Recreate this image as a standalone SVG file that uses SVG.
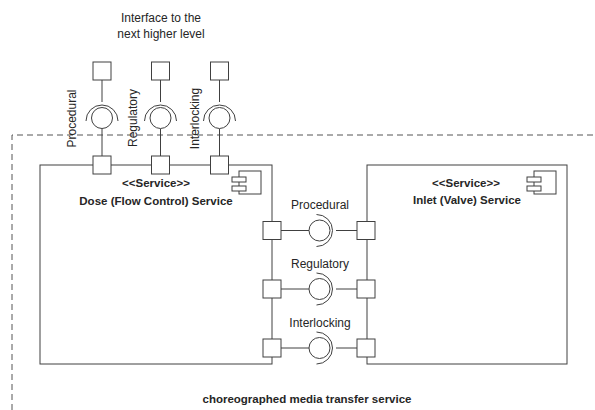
<svg xmlns="http://www.w3.org/2000/svg" width="595" height="410" viewBox="0 0 595 410">
<style>
.ln{stroke:#404040;stroke-width:1;fill:none}
.box{stroke:#404040;stroke-width:1;fill:#fff}
.port{stroke:#404040;stroke-width:1;fill:#fff}
.t{font-family:"Liberation Sans",Arial,sans-serif;font-size:12px;fill:#262626}
.b{font-weight:bold;font-size:11.5px}
.c{text-anchor:middle}
</style>
<rect width="595" height="410" fill="#fff"/>
<g id="boundary">
<path d="M12,410 V135 H600" fill="none" stroke="#555" stroke-width="1" stroke-dasharray="6,4"/>
<text class="t b c" x="307" y="403">choreographed media transfer service</text>
</g>
<g id="interface-title">
<text class="t c" x="161" y="22">Interface to the</text>
<text class="t c" x="161" y="38">next higher level</text>
</g>
<g id="dose-service">
<rect class="box" x="40" y="165" width="232" height="199"/>
<rect class="box" x="239" y="171" width="22" height="23"/>
<rect class="box" x="232" y="177" width="14" height="5"/>
<rect class="box" x="232" y="186" width="14" height="5"/>
<text class="t b c" x="156" y="187">&lt;&lt;Service&gt;&gt;</text>
<text class="t b c" x="156" y="205">Dose (Flow Control) Service</text>
</g>
<g id="inlet-service">
<rect class="box" x="367" y="165" width="200" height="199"/>
<rect class="box" x="534" y="171" width="22" height="23"/>
<rect class="box" x="527" y="177" width="14" height="5"/>
<rect class="box" x="527" y="186" width="14" height="5"/>
<text class="t b c" x="466" y="187">&lt;&lt;Service&gt;&gt;</text>
<text class="t b c" x="467" y="204">Inlet (Valve) Service</text>
</g>
<g id="connectors">
<path class="ln" d="M102,80 V102 M102,129 V156"/>
<path class="ln" d="M160.5,80 V102 M160.5,129 V156"/>
<path class="ln" d="M219.5,80 V102 M219.5,129 V156"/>
<path class="ln" d="M281,230.5 H309 M336,230.5 H357"/>
<path class="ln" d="M281,289 H309 M336,289 H357"/>
<path class="ln" d="M281,348 H309 M336,348 H357"/>
</g>
<g id="top-procedural">
<rect class="port" x="93" y="62" width="18" height="18"/>
<circle class="ln" cx="102" cy="118" r="10.5"/>
<path class="ln" d="M86,121 A16,16 0 0 1 118,121"/>
<rect class="port" x="93" y="156" width="18" height="18"/>
<text class="t c" transform="translate(75.5,118.5) rotate(-90)">Procedural</text>
</g>
<g id="top-regulatory">
<rect class="port" x="151.5" y="62" width="18" height="18"/>
<circle class="ln" cx="160.5" cy="118" r="10.5"/>
<path class="ln" d="M144.5,121 A16,16 0 0 1 176.5,121"/>
<rect class="port" x="151.5" y="156" width="18" height="18"/>
<text class="t c" transform="translate(136.5,118) rotate(-90)">Regulatory</text>
</g>
<g id="top-interlocking">
<rect class="port" x="210.5" y="62" width="18" height="18"/>
<circle class="ln" cx="219.5" cy="118" r="10.5"/>
<path class="ln" d="M203.5,121 A16,16 0 0 1 235.5,121"/>
<rect class="port" x="210.5" y="156" width="18" height="18"/>
<text class="t c" transform="translate(199,118.5) rotate(-90)">Interlocking</text>
</g>
<g id="mid-procedural">
<rect class="port" x="263" y="221.5" width="18" height="18"/>
<circle class="ln" cx="319.5" cy="230.5" r="10.5"/>
<path class="ln" d="M316.5,214.5 A16,16 0 0 1 316.5,246.5"/>
<rect class="port" x="357" y="221.5" width="18" height="18"/>
<text class="t c" x="320" y="209">Procedural</text>
</g>
<g id="mid-regulatory">
<rect class="port" x="263" y="280" width="18" height="18"/>
<circle class="ln" cx="319.5" cy="289" r="10.5"/>
<path class="ln" d="M316.5,273 A16,16 0 0 1 316.5,305"/>
<rect class="port" x="357" y="280" width="18" height="18"/>
<text class="t c" x="320" y="268">Regulatory</text>
</g>
<g id="mid-interlocking">
<rect class="port" x="263" y="339" width="18" height="18"/>
<circle class="ln" cx="319.5" cy="348" r="10.5"/>
<path class="ln" d="M316.5,332 A16,16 0 0 1 316.5,364"/>
<rect class="port" x="357" y="339" width="18" height="18"/>
<text class="t c" x="320" y="327">Interlocking</text>
</g>
</svg>
